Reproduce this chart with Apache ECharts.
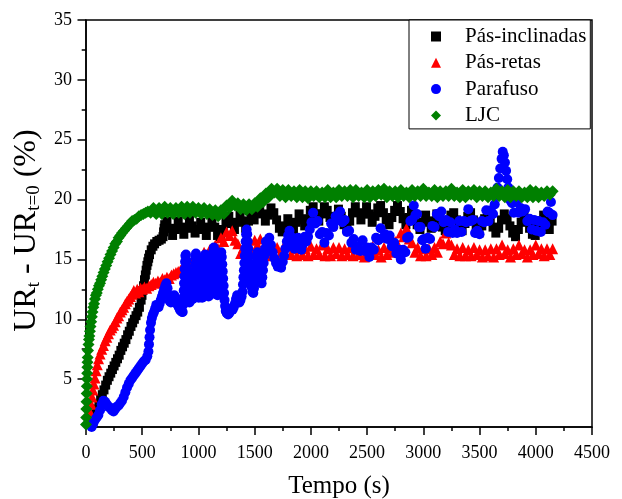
<!DOCTYPE html>
<html><head><meta charset="utf-8">
<script src="https://cdn.jsdelivr.net/npm/echarts@6/dist/echarts.min.js"></script>
<style>html,body{margin:0;padding:0;background:#fff}#c{width:622px;height:499px}</style>
</head><body><div id="c"></div><script>
const FONT = '"Liberation Serif", "Times New Roman", serif';

const seriesNames = ['Pás-inclinadas', 'Pás-retas', 'Parafuso', 'LJC'];
const yTicks = [5, 10, 15, 20, 25, 30, 35];
const yMinorTicks = [2.5, 7.5, 12.5, 17.5, 22.5, 27.5, 32.5];

const pasInclinadas = [[55,1.3],[70,1.7],[85,2.1],[100,2.5],[115,2.9],[130,3.3],[145,3.7],[160,4.1],[175,4.5],[190,4.9],[205,5.2],[220,5.5],[235,5.8],[250,6.1],[265,6.4],[280,6.7],[295,7.0],[310,7.4],[325,7.7],[340,8.0],[355,8.3],[370,8.7],[385,9.0],[400,9.4],[415,9.7],[430,10.0],[445,10.3],[460,10.6],[475,11.0],[490,11.6],[498,12.0],[505,12.4],[512,12.8],[520,13.3],[528,13.7],[535,14.1],[542,14.5],[550,14.8],[557,15.1],[565,15.4],[580,15.8],[595,16.1],[610,16.3],[630,16.5],[650,16.6],[670,16.7],[685,16.9],[690,17.3],[695,17.6],[700,17.9],
[720,18.2],[745,17.6],[770,17.0],[795,17.5],[820,18.2],[845,17.7],[870,17.1],[895,17.6],[920,18.3],[945,17.8],[970,17.2],[995,17.5],[1020,18.1],[1045,17.6],[1070,17.0],[1095,17.7],[1120,18.3],[1145,17.7],[1170,17.0],[1195,16.9],[1220,17.5],[1245,18.1],[1270,18.6],[1295,18.0],[1320,17.5],[1345,18.1],[1370,18.7],[1395,18.2],[1420,17.6],[1445,18.2],[1470,18.8],[1495,18.3],[1520,18.9],[1545,19.4],[1570,18.8],[1595,18.2],[1620,18.7],[1645,19.3],[1670,18.9],[1695,18.3],[1720,17.6],[1745,17.3],[1770,17.8],[1795,18.4],[1820,17.9],[1845,17.5],[1870,18.1],[1895,18.8],[1920,18.3],[1945,17.8],[1970,18.4],[1995,19.1],[2020,19.4],[2045,18.8],[2070,18.2],[2095,18.8],[2120,19.4],[2145,19.1],[2170,18.5],[2195,18.0],[2220,18.6],[2245,19.2],[2270,18.6],[2295,17.9],[2320,17.6],[2345,18.2],[2370,18.9],[2395,19.4],[2420,18.9],[2445,18.3],[2470,18.8],[2495,19.4],[2520,18.8],[2545,18.1],[2570,18.6],[2595,19.3],[2620,19.5],[2645,18.9],[2670,18.3],[2695,17.9],[2720,18.5],[2745,19.1],[2770,19.5],[2795,19.0],[2820,18.4],[2845,17.9],[2870,18.5],[2895,19.1],[2920,18.6],[2945,17.9],[2970,17.5],[2995,18.1],[3020,18.7],[3045,18.2],[3070,17.6],[3095,18.2],[3120,18.8],[3145,18.3],[3170,17.7],[3195,17.4],[3220,18.0],[3245,18.7],[3270,18.9],[3295,18.3],[3320,17.7],[3345,17.4],[3370,18.0],[3395,18.6],[3420,18.9],[3445,18.3],[3470,17.6],[3495,17.2],[3520,17.8],[3545,18.4],[3570,18.9],[3595,18.3],[3620,17.7],[3645,17.2],[3670,17.6],[3695,18.3],[3720,18.8],[3745,18.4],[3770,17.8],[3795,17.2],[3820,16.9],[3845,17.5],[3870,18.1],[3895,18.7],[3920,18.2],[3945,17.6],[3970,17.1],[3995,17.0],[4020,17.6],[4045,18.2],[4070,18.7],[4095,18.1],[4120,17.5],[4145,18.2]];

const pasRetas = [[30,1.5],[38,2.2],[46,2.9],[54,3.5],[62,4.1],[70,4.6],[80,5.1],[90,5.7],[100,6.2],[112,6.7],[125,7.1],[140,7.5],[155,7.8],[170,8.2],[185,8.5],[200,8.8],[215,9.1],[230,9.3],[245,9.5],[260,9.8],[275,10.1],[290,10.3],[305,10.6],[320,10.8],[335,11.0],[350,11.3],[365,11.5],[380,11.7],[395,11.9],[410,12.1],[425,12.4],[440,12.2],[455,12.5],[470,12.3],[485,12.6],[500,12.5],[520,12.7],[540,12.6],[560,12.8],[580,12.9],[600,13.1],[620,13.0],[640,13.2],[660,13.1],[680,13.4],[700,13.3],[720,13.5],[740,13.4],[760,13.7],[780,13.8],[800,13.9],[820,14.0],[840,14.1],[860,14.3],[880,14.4],[900,14.6],[920,14.5],[940,14.8],[960,14.7],[980,14.9],
[1000,15.3],[1025,14.9],[1050,15.6],[1075,15.2],[1100,15.8],[1125,15.4],[1150,16.2],[1175,15.9],[1200,16.8],[1225,16.5],[1250,17.3],[1275,17.0],[1300,17.4],[1325,16.6],[1350,16.3],[1375,15.5],[1400,16.0],[1425,15.3],[1450,16.1],[1475,15.7],[1500,16.6],[1525,16.2],[1550,16.7],[1575,15.7],[1600,16.1],[1625,15.3],[1650,16.0],[1675,15.4],[1700,16.0],[1725,15.3],[1750,15.9],[1775,15.4],[1800,16.1],[1825,15.4],[1850,15.9],[1875,15.3],[1900,16.0],[1925,15.4],[1950,15.9],[1975,15.3],[2000,16.1],[2025,15.4],[2050,15.9],[2075,15.4],[2100,16.2],[2125,15.3],[2150,15.9],[2175,15.3],[2200,16.0],[2225,15.5],[2250,16.0],[2275,15.3],[2300,15.9],[2325,15.4],[2350,16.0],[2375,15.3],[2400,15.9],[2425,15.4],[2450,15.8],[2475,15.2],[2500,15.9],[2525,15.4],[2550,16.1],[2575,15.4],[2600,15.8],[2625,15.2],[2650,16.0],[2675,15.4],[2700,16.0],[2725,15.6],[2750,16.5],[2775,16.2],[2800,17.2],[2825,16.9],[2850,17.6],[2875,16.7],[2900,16.4],[2925,15.6],[2950,16.0],[2975,15.3],[3000,15.9],[3025,15.3],[3050,15.9],[3075,15.4],[3100,16.0],[3125,15.6],[3150,16.5],[3175,16.3],[3200,17.2],[3225,16.4],[3250,16.2],[3275,15.4],[3300,15.9],[3325,15.3],[3350,16.0],[3375,15.3],[3400,15.8],[3425,15.3],[3450,16.0],[3475,15.4],[3500,15.8],[3525,15.2],[3550,15.8],[3575,15.3],[3600,15.9],[3625,15.2],[3650,15.9],[3675,15.4],[3700,16.2],[3725,15.5],[3750,15.8],[3775,15.2],[3800,15.9],[3825,15.4],[3850,16.2],[3875,15.5],[3900,15.8],[3925,15.2],[3950,15.8],[3975,15.4],[4000,16.2],[4025,15.5],[4050,15.9],[4075,15.3],[4100,15.9],[4125,15.4],[4150,15.9]];

const parafuso = [[50,1.0],[65,1.3],[80,1.6],[95,1.8],[110,2.0],[125,2.4],[140,2.9],[155,3.2],[170,3.1],[185,2.9],[200,2.7],[215,2.6],[230,2.4],[245,2.3],[260,2.5],[275,2.7],[290,2.8],[305,3.0],[320,3.2],[335,3.5],[350,3.9],[365,4.3],[380,4.6],[395,4.9],[410,5.1],[425,5.3],[440,5.5],[455,5.7],[470,5.9],[485,6.1],[500,6.3],[515,6.5],[530,6.6],[545,6.9],[555,7.3],[560,7.9],[565,8.5],[570,9.1],[578,9.7],[586,10.1],[595,10.4],[605,10.6],[615,10.9],[625,11.2],[635,11.1],[645,11.0],[655,11.3],[665,11.6],[675,11.9],[685,12.2],[695,12.5],[705,12.8],[715,13.0],[725,12.6],[735,12.0],[745,11.5],[755,11.4],[765,11.6],[775,11.9],[785,12.0],[795,11.8],[805,11.5],[815,11.2],[825,11.0],[835,10.8],[845,10.7],[855,10.6],
[860,10.6],[863,11.2],[866,11.8],[869,12.4],[872,13.0],[875,13.6],[878,14.2],[881,14.8],[884,15.3],[889,15.4],[893,14.9],[896,14.3],[899,13.7],[902,13.1],[905,12.5],[908,11.9],[912,11.5],[920,11.4],[930,11.6],[940,11.8],[950,11.7],[958,12.2],[961,12.8],[964,13.4],[967,14.0],[970,14.6],[973,15.2],[978,15.5],[982,15.0],[985,14.4],[988,13.8],[991,13.2],[994,12.6],[997,12.1],[1003,11.8],[1013,11.9],[1023,12.0],[1033,11.8],[1040,12.3],[1043,12.9],[1046,13.5],[1049,14.1],[1052,14.7],[1055,15.2],[1060,15.4],[1064,14.9],[1067,14.3],[1070,13.7],[1073,13.1],[1076,12.5],[1080,12.1],[1090,11.9],[1100,12.0],[1110,12.2],[1117,12.7],[1120,13.3],[1123,13.9],[1126,14.5],[1129,15.1],[1132,15.7],[1137,16.0],[1141,15.5],[1144,14.9],[1147,14.3],[1150,13.7],[1153,13.1],[1156,12.5],[1160,12.1],[1170,12.0],[1180,12.2],[1186,12.7],[1189,13.3],[1192,13.9],[1195,14.5],[1198,15.1],[1203,15.6],[1208,15.2],[1212,14.6],[1216,14.0],[1220,13.4],[1224,12.8],[1228,12.2],[1232,11.6],[1237,11.1],[1243,10.7],[1252,10.5],[1264,10.4],[1274,10.5],[1284,10.7],[1294,10.9],[1304,10.8],[1314,11.0],[1324,11.3],[1334,11.7],[1344,12.0],[1354,11.6],[1364,11.4],[1374,11.6],[1384,11.9],[1392,12.3],[1396,12.9],[1400,13.5],[1404,14.1],[1408,14.7],[1412,15.3],[1416,15.9],[1420,16.5],[1424,17.1],[1429,17.5],[1434,17.1],[1438,16.5],[1442,15.9],[1446,15.3],[1450,14.7],[1455,14.1],[1460,13.6],[1466,13.1],[1472,12.7],[1480,12.3],[1488,12.2],[1494,12.6],[1499,13.1],[1504,13.6],[1509,14.1],[1514,14.6],[1519,15.1],[1525,15.6],[1531,15.3],[1537,14.8],[1543,14.3],[1549,13.8],[1555,13.3],[1562,13.0],[1568,13.5],[1574,14.1],[1580,14.7],[1586,15.3],[1592,15.9],[1600,16.5],[1615,16.4],[1630,16.8],[1645,16.2],[1660,15.6],[1675,15.1],[1690,14.7],[1705,14.4],[1720,14.6],[1735,14.3],[1750,14.8],[1762,15.3],[1774,15.9],[1786,16.5],[1798,17.0],[1810,17.4],[1825,16.9],[1840,16.3],[1855,15.9],[1870,16.3],[1885,16.8],[1900,16.3],[1915,15.8],[1930,16.3],[1945,16.9],[1960,16.5],[1975,16.9],[1990,17.5],[2005,18.1],
[2020,18.9],[2040,18.0],[2060,18.2],[2080,17.1],[2100,17.3],[2120,16.4],[2140,17.2],[2160,17.0],[2180,18.0],[2200,17.7],[2220,18.6],[2240,18.3],[2260,19.0],[2280,18.1],[2300,18.3],[2320,17.3],[2340,17.4],[2360,16.4],[2380,16.7],[2400,15.8],[2420,16.1],[2440,15.7],[2460,16.6],[2480,15.7],[2500,16.0],[2520,15.2],[2540,16.0],[2560,15.8],[2580,16.8],[2600,16.6],[2620,17.6],[2640,16.8],[2660,17.1],[2680,16.7],[2700,17.0],[2720,16.1],[2740,16.4],[2760,15.5],[2780,15.8],[2800,15.0],[2820,15.8],[2840,15.6],[2855,16.8],[2870,16.9],[2885,18.2],[2900,18.3],[2915,19.5],[2930,18.7],[2945,18.8],[2960,17.7],[2975,17.7],[2990,16.6],[3005,16.7],[3020,15.9],[3040,16.8],[3060,16.7],[3080,17.8],[3100,17.7],[3120,18.8],[3140,18.6],[3160,19.0],[3180,18.1],[3200,18.3],[3220,17.3],[3240,18.1],[3260,17.2],[3280,17.5],[3300,17.2],[3320,18.2],[3340,17.3],[3360,18.2],[3380,18.1],[3400,19.2],[3420,18.2],[3440,18.3],[3460,17.2],[3480,17.4],[3500,17.1],[3520,18.2],[3540,18.1],[3560,19.1],[3580,18.2],[3600,19.1],[3620,18.8],[3635,19.6],[3648,20.3],[3660,21.0],[3672,21.8],[3684,22.6],[3696,23.4],[3706,24.0],[3716,23.7],[3726,23.1],[3736,22.4],[3746,21.7],[3756,21.0],[3766,20.4],[3776,19.9],[3790,19.7],[3805,18.9],[3825,19.8],[3845,18.9],[3865,19.3],[3885,19.0],[3905,19.2],[3925,18.2],[3945,18.4],[3965,17.5],[3985,18.3],[4005,17.4],[4025,18.2],[4045,17.3],[4065,18.1],[4085,17.9],[4105,19.0],[4120,18.9],[4135,19.8],[4150,18.7]];

const ljc = [[0,1.2],[1.5,1.8],[3,2.5],[4.5,3.1],[6,3.8],[7.5,4.4],[9,5.0],[10.5,5.5],[12,6.0],[13.5,6.4],[15,6.8],[18,7.4],[22,7.9],[26,8.3],[30,8.6],[35,9.0],[40,9.4],[46,9.8],[52,10.2],[58,10.6],[65,11.0],[72,11.3],[80,11.7],[88,12.0],[96,12.2],[105,12.5],[115,12.8],[125,13.0],[135,13.3],[145,13.6],[156,13.9],[168,14.2],[180,14.5],[192,14.8],[205,15.1],[218,15.4],[232,15.7],[246,16.0],[260,16.3],[275,16.5],[290,16.8],[305,17.0],[320,17.2],[338,17.4],[356,17.6],[374,17.8],[392,18.0],[410,18.2],[430,18.3],[450,18.4],[470,18.6],[490,18.7],[510,18.8],[530,18.9],[550,19.0],[575,18.9],
[600,19.3],[625,18.8],[650,19.3],[675,18.8],[700,19.4],[725,18.9],[750,19.3],[775,18.8],[800,19.3],[825,18.9],[850,19.4],[875,18.8],[900,19.4],[925,18.9],[950,19.4],[975,18.9],[1000,19.3],[1025,18.8],[1050,19.3],[1075,18.8],[1100,19.2],[1125,18.7],[1150,19.1],[1175,18.6],[1200,19.1],[1225,18.8],[1250,19.5],[1275,19.3],[1300,19.9],[1325,19.5],[1350,19.7],[1375,19.2],[1400,19.6],[1425,19.1],[1450,19.6],[1475,19.2],[1500,19.7],[1525,19.4],[1550,20.1],[1575,19.8],[1600,20.5],[1625,20.2],[1650,20.9],[1675,20.6],[1700,20.9],[1725,20.3],[1750,20.8],[1775,20.2],[1800,20.8],[1825,20.3],[1850,20.7],[1875,20.2],[1900,20.8],[1925,20.2],[1950,20.7],[1975,20.1],[2000,20.7],[2025,20.3],[2050,20.7],[2075,20.2],[2100,20.6],[2125,20.2],[2150,20.8],[2175,20.2],[2200,20.6],[2225,20.2],[2250,20.8],[2275,20.3],[2300,20.7],[2325,20.3],[2350,20.8],[2375,20.2],[2400,20.8],[2425,20.3],[2450,20.6],[2475,20.2],[2500,20.8],[2525,20.2],[2550,20.7],[2575,20.3],[2600,20.8],[2625,20.4],[2650,20.9],[2675,20.2],[2700,20.7],[2725,20.3],[2750,20.7],[2775,20.2],[2800,20.8],[2825,20.3],[2850,20.6],[2875,20.2],[2900,20.8],[2925,20.3],[2950,20.7],[2975,20.3],[3000,20.9],[3025,20.3],[3050,20.6],[3075,20.3],[3100,20.8],[3125,20.2],[3150,20.7],[3175,20.3],[3200,20.7],[3225,20.3],[3250,20.9],[3275,20.3],[3300,20.6],[3325,20.2],[3350,20.8],[3375,20.2],[3400,20.7],[3425,20.4],[3450,20.8],[3475,20.2],[3500,20.7],[3525,20.3],[3550,20.7],[3575,20.2],[3600,20.6],[3625,20.3],[3650,20.9],[3675,20.3],[3700,20.7],[3725,20.2],[3750,20.8],[3775,20.2],[3800,20.7],[3825,20.3],[3850,20.7],[3875,20.2],[3900,20.6],[3925,20.2],[3950,20.8],[3975,20.2],[4000,20.7],[4025,20.2],[4050,20.6],[4075,20.3],[4100,20.7],[4125,20.4],[4150,20.7]];

const chart = echarts.init(document.getElementById('c'), null, {renderer: 'canvas'});
const axisLineStyle = {color: '#000', width: 1.5};
const labelStyle = {color: '#000', fontSize: 18, fontFamily: FONT};

chart.setOption({
  animation: false,
  backgroundColor: '#fff',
  grid: {left: 86, right: 30, top: 20, bottom: 72, show: true, borderColor: '#000', borderWidth: 1.5, containLabel: false, outerBoundsMode: 'none'},
  legend: {
    orient: 'vertical', left: 409, top: 20,
    padding: [6, 4, 3, 22], itemGap: 5.3, itemWidth: 10, itemHeight: 10,
    borderColor: '#000', borderWidth: 1, backgroundColor: '#fff',
    textStyle: {color: '#000', fontSize: 21, fontFamily: FONT, padding: [0, 0, 0, 19]},
    data: [
      {name: seriesNames[0], icon: 'rect'},
      {name: seriesNames[1], icon: 'triangle'},
      {name: seriesNames[2], icon: 'circle'},
      {name: seriesNames[3], icon: 'diamond'}
    ]
  },
  xAxis: {
    type: 'value', min: 0, max: 4500, interval: 500,
    axisLine: {show: true, lineStyle: axisLineStyle},
    axisTick: {show: true, inside: false, length: 8, lineStyle: axisLineStyle},
    minorTick: {show: true, splitNumber: 2, length: 4, lineStyle: axisLineStyle},
    axisLabel: Object.assign({margin: 17, formatter: v => String(v)}, labelStyle),
    splitLine: {show: false}, minorSplitLine: {show: false},
    name: 'Tempo (s)', nameLocation: 'middle', nameGap: 47,
    nameTextStyle: {color: '#000', fontSize: 25, fontFamily: FONT}
  },
  yAxis: [{
    type: 'value', min: 1, max: 35,
    axisLine: {show: true, lineStyle: axisLineStyle},
    axisTick: {show: true, inside: false, length: 8.5, customValues: yTicks, lineStyle: axisLineStyle},
    axisLabel: Object.assign({margin: 14, customValues: yTicks, formatter: v => String(v)}, labelStyle),
    splitLine: {show: false},
    name: '{m|UR}{s|t}{m| - UR}{s|t=0}{m| (%)}',
    nameLocation: 'middle', nameRotate: 90, nameGap: 30,
    nameTextStyle: {
      color: '#000', fontSize: 32, fontFamily: FONT, padding: [0, 14, 0, 0],
      rich: {
        m: {color: '#000', fontSize: 32, fontFamily: FONT, verticalAlign: 'top', lineHeight: 33},
        s: {color: '#000', fontSize: 19, fontFamily: FONT, verticalAlign: 'bottom', lineHeight: 19}
      }
    }
  }, {
    type: 'value', min: 1, max: 35, position: 'left',
    axisLine: {show: false},
    axisTick: {show: true, inside: false, length: 4.3, customValues: yMinorTicks, lineStyle: axisLineStyle},
    axisLabel: {show: false},
    splitLine: {show: false}
  }],
  series: [
    {name: seriesNames[0], type: 'scatter', symbol: 'rect', symbolSize: 9, itemStyle: {color: '#000000', opacity: 1}, data: pasInclinadas, z: 2},
    {name: seriesNames[1], type: 'scatter', symbol: 'triangle', symbolSize: 11, itemStyle: {color: '#ff0000', opacity: 1}, data: pasRetas, z: 3},
    {name: seriesNames[2], type: 'scatter', symbol: 'circle', symbolSize: 10, itemStyle: {color: '#0000ff', opacity: 1}, data: parafuso, z: 4},
    {name: seriesNames[3], type: 'scatter', symbol: 'diamond', symbolSize: 12, itemStyle: {color: '#008000', opacity: 1}, data: ljc, z: 5}
  ]
});
</script></body></html>
